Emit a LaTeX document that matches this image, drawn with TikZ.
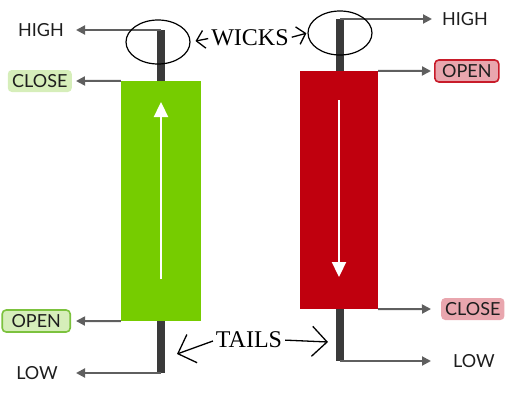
\documentclass[tikz,border=0pt]{standalone}
\usepackage{fontspec}
\setmainfont{Liberation Serif}
\setsansfont{Lato}
\usetikzlibrary{
        arrows.meta,
        positioning,
        shapes.geometric
    }
\definecolor{bull}{RGB}{118,204,0}
\definecolor{bear}{RGB}{192,0,14}
\definecolor{wickgray}{RGB}{58,58,58}
\definecolor{pointgray}{RGB}{95,95,95}
\definecolor{inkgray}{RGB}{30,30,30}
\definecolor{bullfill}{RGB}{214,238,186}
\definecolor{bullline}{RGB}{124,194,62}
\definecolor{bearfill}{RGB}{233,166,174}
\definecolor{bearline}{RGB}{200,28,42}
\tikzset{
    pointer/.style={draw=pointgray,line width=2pt,-{Triangle[length=9pt,width=9pt]}},
    wick/.style={draw=wickgray,line width=8pt},
    body/.style={inner sep=0,minimum width=80pt,minimum height=240pt},
    trend/.style={draw=white,line width=2.3pt,-{Triangle[length=15pt,width=14pt]}},
    tag/.style={font=\sffamily\fontsize{18}{18}\selectfont,text=inkgray,inner xsep=4pt,inner ysep=0pt,
        minimum height=22pt,rounded corners=4pt},
    ring/.style={draw,ellipse,line width=1.2pt,minimum width=64pt,minimum height=44pt},
    note/.style={font=\fontsize{24}{24}\selectfont,inner sep=0pt},
    hand/.style={draw=black,line width=1.3pt},
    smallbarb/.style={hand,-{Straight Barb[length=8pt,width=18pt]}},
    bigbarb/.style={hand,-{Straight Barb[length=15pt,width=30pt]}}
}

\begin{document}
\begin{tikzpicture}[x=1pt,y=-1pt]
                        \useasboundingbox (0,0) rectangle (512,407);
                        % bullish candle
                        \coordinate (gtop) at (161,30);
                        \coordinate (gbot) at (161,373);
                        \path[wick] (gtop) -- (gbot);
                        \node[body,fill=bull] (gbody) at (161,201) {};
                        \draw[trend] (161,279) -- (161,102);
                        % bearish candle
                        \coordinate (rtop) at (340,19);
                        \coordinate (rbot) at (340,361);
                        \path[wick] (rtop) -- (rbot);
                        \node[body,fill=bear,minimum width=78pt,minimum height=238pt] (rbody) at (339,190) {};
                        \draw[trend] (339,100) -- (339,277);
                        % arrow tips
                        \coordinate (ghigh) at (76,30);
                        \coordinate (gclose) at (76,81);
                        \coordinate (gopen) at (76,321);
                        \coordinate (glow) at (76,373);
                        \coordinate (rhigh) at (432,19);
                        \coordinate (ropen) at (431,71);
                        \coordinate (rclose) at (431,309);
                        \coordinate (rlow) at (431,361);
                        % labels
                        \node[tag] (lh) [left=8pt of ghigh] {HIGH};
                        \node[tag,fill=bullfill,minimum width=64pt] (lc) [left=4pt of gclose] {CLOSE};
                        \node[tag,fill=bullfill,draw=bullline,line width=1.6pt,minimum width=68pt] (lo) [left=5pt of gopen] {OPEN};
                        \node[tag] (ll) [left=14pt of glow] {LOW};
                        \node[tag] (rh) [right=6pt of rhigh] {HIGH};
                        \node[tag,fill=bearfill,draw=bearline,line width=1.6pt,minimum width=64pt] (ro) [right=3pt of ropen] {OPEN};
                        \node[tag,fill=bearfill,minimum width=59pt] (rc) [right=10pt of rclose] {CLOSE};
                        \node[tag] (rl) [right=18pt of rlow] {LOW};
                        \path
                            (gtop) edge[pointer] (ghigh)
                            (gbody.north west) edge[pointer] (gclose)
                            (gbody.south west) edge[pointer] (gopen)
                            (gbot) edge[pointer] (glow)
                            (rtop) edge[pointer] (rhigh)
                            (rbody.north east) edge[pointer] (ropen)
                            (rbody.south east) edge[pointer] (rclose)
                            (rbot) edge[pointer] (rlow);
                        % wicks and tails
                        \node[ring] (wl) at (158,42) {};
                        \node[ring] (wr) at (340,33) {};
                        \node[note] (wicks) at (250,38) {WICKS};
                        \node[note] (tails) at (249,340) {TAILS};
                        \coordinate (tl) at (177,354);
                        \coordinate (tr) at (328,342);
                        \path
                            (wicks.west) edge[smallbarb,shorten <=3pt,shorten >=5pt] (wl.east)
                            (wicks.east) edge[smallbarb,shorten <=3pt,shorten >=1pt] (wr.west)
                            (tails.west) edge[bigbarb,shorten <=3pt] (tl)
                            (tails.east) edge[bigbarb,shorten <=3pt] (tr);
                    \end{tikzpicture}
\end{document}
